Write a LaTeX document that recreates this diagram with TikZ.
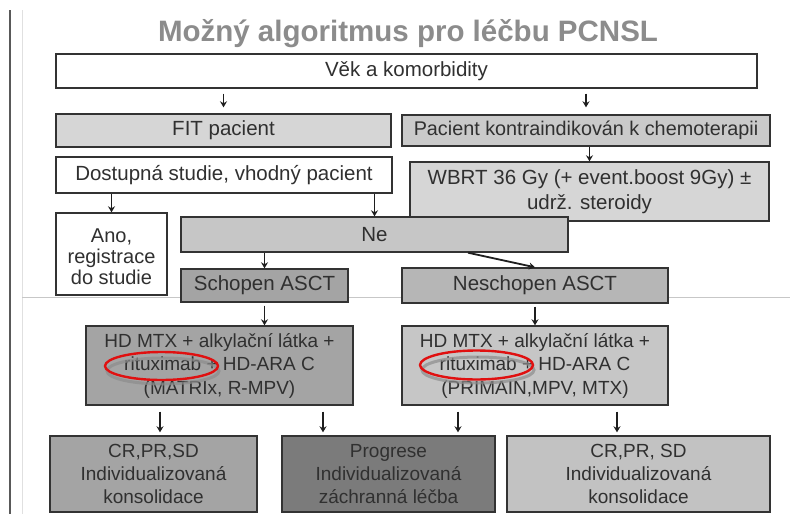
\documentclass[tikz,border=0pt]{standalone}
\usepackage{fontspec}
\setmainfont{Liberation Sans}
\usetikzlibrary{arrows.meta,calc}
\definecolor{txt}{HTML}{303030}
\definecolor{boxline}{HTML}{333333}
\definecolor{arrowc}{HTML}{1E1E1E}
\definecolor{titlec}{HTML}{8C8C8C}
\definecolor{fillA}{HTML}{D6D6D6}
\definecolor{fillB}{HTML}{CACACA}
\definecolor{fillC}{HTML}{C6C6C6}
\definecolor{fillD}{HTML}{A4A4A4}
\definecolor{fillE}{HTML}{B6B6B6}
\definecolor{fillF}{HTML}{7B7B7B}
\definecolor{fillG}{HTML}{C2C2C2}
\definecolor{ringred}{HTML}{E01010}
\begin{document}
\begin{tikzpicture}[x=1pt,y=-1pt,
  box/.style={draw=boxline, line width=1.4pt, inner sep=0pt, text=txt,
    align=center, font=\fontsize{20.5}{24}\selectfont},
  arr/.style={draw=arrowc, line width=1.8pt, -{Stealth[length=6pt,width=7pt]}},
  ring/.style={draw=ringred, line width=2.4pt},
  ringshadow/.style={draw=black!45, line width=3pt, opacity=0.7},
]
% page
\fill[white] (0,0) rectangle (790,514);
\useasboundingbox (0,0) rectangle (790,514);

% margin rules
\draw[black!65, line width=2pt] (10,10) -- (10,514);
\draw[black!12, line width=1pt] (22,10) -- (22,514);
\draw[black!22, line width=1pt] (22,297) -- (790,297);

% title
\node[text=titlec, font=\fontsize{29.5}{32}\selectfont\bfseries] (title) at (408,34)
  {Možný algoritmus pro léčbu PCNSL};

% upper part
\node[box, fill=white, minimum width=701pt, minimum height=34pt] (vek) at (406.5,71)
  {Věk a komorbidity};
\node[box, fill=fillA, minimum width=335pt, minimum height=33pt] (fit) at (223.5,130.5)
  {FIT pacient};
\node[box, fill=fillB, minimum width=368pt, minimum height=31pt,
  font=\fontsize{19.8}{23}\selectfont] (pac) at (586,130.5)
  {Pacient kontraindikován k chemoterapii};
\node[box, fill=white, minimum width=336pt, minimum height=36pt] (dost) at (224,175)
  {Dostupná studie, vhodný pacient};
\node[box, fill=fillA, minimum width=359pt, minimum height=59pt,
  font=\fontsize{20.5}{25}\selectfont] (wbrt) at (589.5,191.5)
  {WBRT 36 Gy (+ event.boost 9Gy) ±\\udrž. steroidy};
\node[box, fill=white, minimum width=111pt, minimum height=82pt,
  font=\fontsize{20}{21}\selectfont] (ano) at (111.5,254)
  {\rule{0pt}{19pt}Ano,\\registrace\\do studie};
\node[box, fill=fillC, minimum width=387pt, minimum height=35pt] (ne) at (374.5,234.5)
  {Ne};
\node[box, fill=fillD, minimum width=167pt, minimum height=33pt] (sch) at (264.5,285.5)
  {Schopen ASCT};
\node[box, fill=fillE, minimum width=266pt, minimum height=35pt] (nes) at (535,285.5)
  {Neschopen ASCT};

% treatment
\node[box, fill=fillD, minimum width=267pt, minimum height=79pt,
  font=\fontsize{19}{23.5}\selectfont] (hdl) at (219.5,365.5)
  {HD MTX + alkylační látka +\\rituximab + HD-ARA C\\(MATRIx, R-MPV)};
\node[box, fill=fillC, minimum width=266pt, minimum height=79pt,
  font=\fontsize{19}{23.5}\selectfont] (hdr) at (535,365.5)
  {HD MTX + alkylační látka +\\rituximab + HD-ARA C\\(PRIMAIN,MPV, MTX)};

% outcomes
\node[box, fill=fillD, minimum width=207pt, minimum height=76pt,
  font=\fontsize{19}{23}\selectfont] (bl) at (153.5,474)
  {CR,PR,SD\\Individualizovaná\\konsolidace};
\node[box, fill=fillF, minimum width=213pt, minimum height=76pt,
  font=\fontsize{19}{23}\selectfont] (pg) at (388.5,474)
  {Progrese\\Individualizovaná\\záchranná léčba};
\node[box, fill=fillG, minimum width=263pt, minimum height=76pt,
  font=\fontsize{19}{23}\selectfont] (br) at (638.5,474)
  {CR,PR, SD\\Individualizovaná\\konsolidace};

% highlight rings around rituximab
\draw[ringshadow] (163,371) ellipse [x radius=56pt, y radius=13pt];
\draw[ringshadow] (478,370) ellipse [x radius=56pt, y radius=13pt];
\draw[ring] (161.5,366) ellipse [x radius=56.5pt, y radius=14pt];
\draw[ring] (476.5,365) ellipse [x radius=56.5pt, y radius=14.5pt];

% connectors
\draw[arr, shorten <=5pt, shorten >=6pt] (vek.south -| fit.north) -- (fit.north);
\draw[arr, shorten <=5pt, shorten >=7pt] (vek.south -| pac.north) -- (pac.north);
\draw[arr] (pac.south -| wbrt.north) -- (wbrt.north);
\draw[arr] (dost.south -| ano.north) -- (ano.north);
\draw[arr] (dost.south -| ne.north) -- (ne.north);
\draw[arr] (ne.south -| sch.north) -- (sch.north);
\draw[arr] ([xshift=93.5pt]ne.south) -- (nes.north);
\draw[arr, shorten <=3pt] (sch.south) -- (sch.south |- hdl.north);
\draw[arr, shorten <=3pt] (nes.south) -- (hdr.north);
\coordinate (l1) at ([xshift=-59.5pt]hdl.south);
\coordinate (l2) at ([xshift=103.5pt]hdl.south);
\coordinate (r1) at ([xshift=-77pt]hdr.south);
\coordinate (r2) at ([xshift=82pt]hdr.south);
\draw[arr, shorten >=3pt] ([yshift=-6pt]l1) -- (l1 |- bl.north);
\draw[arr, shorten >=3pt] ([yshift=-6pt]l2) -- (l2 |- pg.north);
\draw[arr, shorten >=3pt] ([yshift=-6pt]r1) -- (r1 |- pg.north);
\draw[arr, shorten >=3pt] ([yshift=-6pt]r2) -- (r2 |- br.north);
\end{tikzpicture}
\end{document}
